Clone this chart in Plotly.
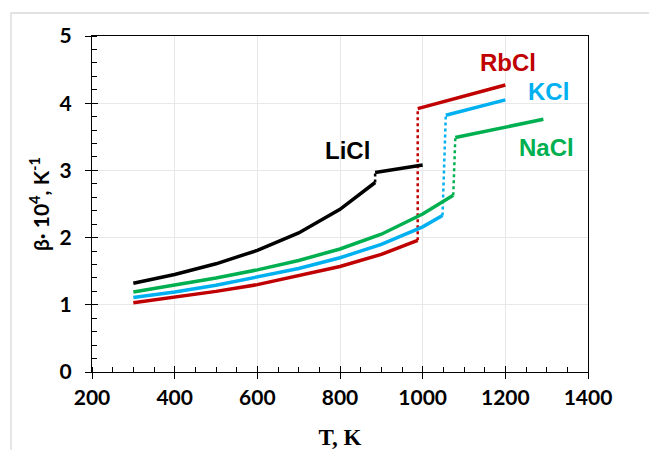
import plotly.graph_objects as go

# ---- data ----
T_LiCl_s = [300, 400, 500, 600, 700, 800, 885]
b_LiCl_s = [1.32, 1.45, 1.61, 1.81, 2.07, 2.42, 2.82]
T_LiCl_l = [885, 1000]
b_LiCl_l = [2.97, 3.08]

T_NaCl_s = [300, 400, 500, 600, 700, 800, 900, 1000, 1074]
b_NaCl_s = [1.19, 1.29, 1.40, 1.52, 1.66, 1.83, 2.05, 2.35, 2.63]
T_NaCl_l = [1079, 1292]
b_NaCl_l = [3.49, 3.76]

T_KCl_s = [300, 400, 500, 600, 700, 800, 900, 1000, 1048]
b_KCl_s = [1.11, 1.19, 1.29, 1.41, 1.54, 1.70, 1.90, 2.16, 2.33]
T_KCl_l = [1056, 1200]
b_KCl_l = [3.82, 4.05]

T_RbCl_s = [300, 400, 500, 600, 700, 800, 900, 988]
b_RbCl_s = [1.03, 1.11, 1.20, 1.30, 1.43, 1.57, 1.75, 1.96]
T_RbCl_l = [988, 1200]
b_RbCl_l = [3.92, 4.27]

x_ticks = [200, 400, 600, 800, 1000, 1200, 1400]
y_ticks = [0, 1, 2, 3, 4, 5]

label_names = ["LiCl", "RbCl", "KCl", "NaCl"]
label_T = [818, 1207, 1304, 1299]
label_b = [3.29, 4.60, 4.17, 3.34]

C_LI, C_NA, C_K, C_RB = "#000000", "#00B050", "#00B0F0", "#C00000"
label_colors = [C_LI, C_RB, C_K, C_NA]

fig = go.Figure()

def add_series(Ts, bs, Tl, bl, color):
    fig.add_trace(go.Scatter(x=Ts, y=bs, mode="lines",
                             line=dict(color=color, width=3.5), hoverinfo="skip"))
    fig.add_trace(go.Scatter(x=[Ts[-1], Tl[0]], y=[bs[-1], bl[0]], mode="lines",
                             line=dict(color=color, width=2.5, dash="dot"), hoverinfo="skip"))
    fig.add_trace(go.Scatter(x=Tl, y=bl, mode="lines",
                             line=dict(color=color, width=3.5), hoverinfo="skip"))

add_series(T_RbCl_s, b_RbCl_s, T_RbCl_l, b_RbCl_l, C_RB)
add_series(T_KCl_s, b_KCl_s, T_KCl_l, b_KCl_l, C_K)
add_series(T_NaCl_s, b_NaCl_s, T_NaCl_l, b_NaCl_l, C_NA)
add_series(T_LiCl_s, b_LiCl_s, T_LiCl_l, b_LiCl_l, C_LI)

# dummy trace for overlay axes (inside halves of crossing major ticks)
fig.add_trace(go.Scatter(x=[None], y=[None], xaxis="x2", yaxis="y2",
                         showlegend=False, hoverinfo="skip"))

for txt, x, y, c in zip(label_names, label_T, label_b, label_colors):
    fig.add_annotation(x=x, y=y, text="<b>%s</b>" % txt, showarrow=False,
                       font=dict(family="Liberation Sans, Arial", size=24, color=c),
                       xanchor="center", yanchor="middle")

tick_font = dict(family="Lato, Arial", size=21, color="black")

fig.update_layout(
    width=649, height=450,
    margin=dict(l=92, r=61, t=36, b=78),
    paper_bgcolor="white", plot_bgcolor="white",
    showlegend=False,
    xaxis=dict(range=[200, 1400], tickvals=x_ticks, automargin=False,
               ticktext=["<b>%d</b>" % v for v in x_ticks],
               tickfont=tick_font, ticks="outside", ticklen=6, tickwidth=1.3,
               ticklabelstandoff=1,
               tickcolor="black", showline=True, linecolor="black", linewidth=1.3,
               mirror=True, showgrid=True, gridcolor="#e8e8e8", gridwidth=1,
               zeroline=False,
               minor=dict(dtick=50, tick0=200, ticks="inside", ticklen=5,
                          tickcolor="black", tickwidth=1.2, showgrid=False),
               title=dict(text="<b>T, K</b>",
                          font=dict(family="Liberation Serif, Times New Roman", size=23, color="black"),
                          standoff=20)),
    yaxis=dict(range=[0, 5], tickvals=y_ticks, automargin=False,
               ticktext=["<b>%d</b>" % v for v in y_ticks],
               tickfont=tick_font, ticks="outside", ticklen=6, tickwidth=1.3,
               ticklabelstandoff=9,
               tickcolor="black", showline=True, linecolor="black", linewidth=1.3,
               mirror=True, showgrid=True, gridcolor="#e8e8e8", gridwidth=1,
               zeroline=False,
               minor=dict(dtick=0.2, tick0=0, ticks="inside", ticklen=5,
                          tickcolor="black", tickwidth=1.2, showgrid=False),
               title=dict(text="<b>β· 10<sup>4</sup>, K<sup>-1</sup></b>",
                          font=dict(family="Lato, Arial", size=21, color="black"),
                          standoff=4)),
    xaxis2=dict(range=[200, 1400], overlaying="x", side="bottom", tickvals=x_ticks,
                showticklabels=False, ticks="inside", ticklen=6, tickwidth=1.3,
                tickcolor="black", showgrid=False, zeroline=False, showline=False),
    yaxis2=dict(range=[0, 5], overlaying="y", side="left", tickvals=y_ticks,
                showticklabels=False, ticks="inside", ticklen=6, tickwidth=1.3,
                tickcolor="black", showgrid=False, zeroline=False, showline=False),
)

# outer chart border (light gray)
fig.add_shape(type="rect", xref="paper", yref="paper",
              x0=(11 - 92) / 496, x1=(700 - 92) / 496,
              y0=(372 - 500) / 336, y1=(372 - 13) / 336,
              line=dict(color="#d9d9d9", width=1.3), layer="below")

fig.write_html("out.html")
